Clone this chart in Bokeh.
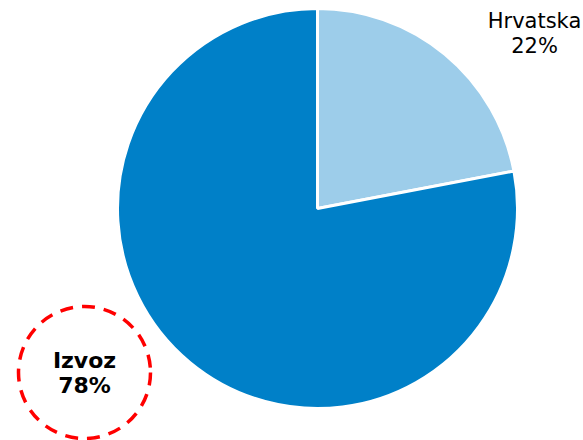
import math
from bokeh.plotting import figure
from bokeh.models import Range1d
from bokeh.core.properties import value
from bokeh.embed import file_html
from bokeh.resources import INLINE

categories = ["Hrvatska", "Izvoz"]
shares = [22, 78]
colors = ["#9DCDEA", "#0080C8"]

W, H = 583, 440
p = figure(width=W, height=H, output_backend="svg", toolbar_location=None,
           x_range=Range1d(0, W), y_range=Range1d(0, H),
           min_border=0, outline_line_color=None)
p.axis.visible = False
p.grid.visible = False
p.background_fill_color = "white"
p.border_fill_color = "white"

cx, cy, r = 317, H - 208, 200
total = sum(shares)
angle = math.pi / 2
for cat, v, c in zip(categories, shares, colors):
    sweep = 2 * math.pi * v / total
    p.wedge(x=cx, y=cy, radius=r, start_angle=angle - sweep, end_angle=angle,
            fill_color=c, line_color="white", line_width=3)
    angle -= sweep

font = value("DejaVu Sans")
# Hrvatska label
p.text(x=[534, 534], y=[H - 20, H - 45], text=[categories[0], f"{shares[0]}%"],
       text_font=font, text_font_size="21px", text_align="center",
       text_baseline="middle", text_color="black")

# Izvoz label with dashed circle
lx, ly = 84, H - 372
p.circle(x=[lx], y=[ly], radius=66, fill_color=None, line_color="red",
         line_width=3.5, line_dash="13 9")
p.text(x=[lx, lx], y=[H - 360, H - 385], text=[categories[1], f"{shares[1]}%"],
       text_font=font, text_font_size="22px", text_font_style="bold",
       text_align="center", text_baseline="middle", text_color="black")

open("out.html", "w").write(file_html(p, INLINE))
